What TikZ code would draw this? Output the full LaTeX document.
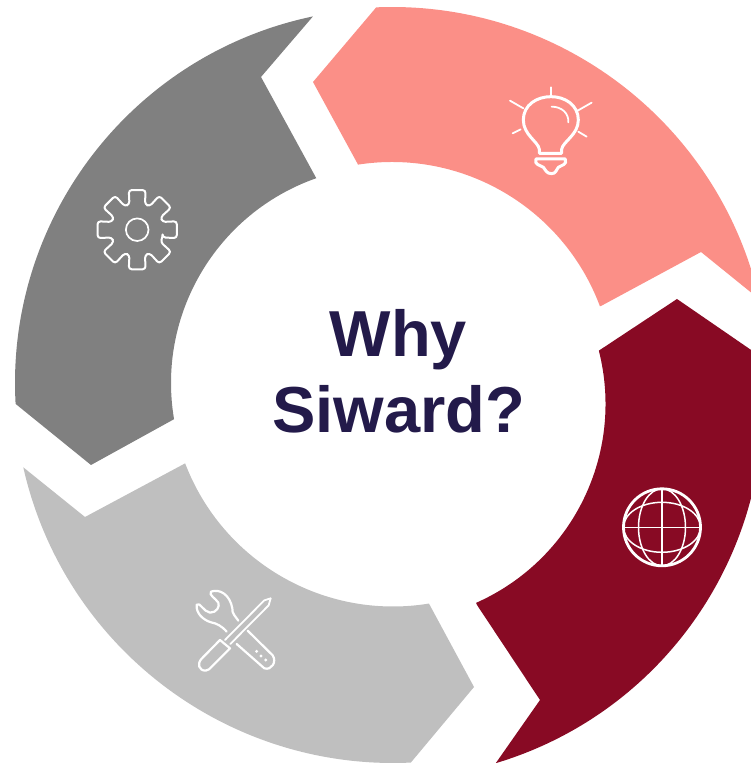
\documentclass[tikz,border=0pt]{standalone}
\usepackage{fontspec}
\setmainfont{Liberation Sans}
\definecolor{pinkseg}{HTML}{FB8F87}
\definecolor{redseg}{HTML}{880A24}
\definecolor{grayseg}{HTML}{808080}
\definecolor{lightseg}{HTML}{BFBFBF}
\definecolor{titleink}{HTML}{231A4A}
\tikzset{
  icon/.style={draw=white,line cap=round,line join=round,fill=none},
  zoomed/.style={shift={(#1)},x=0.3333pt,y=-0.3333pt}
}
\begin{document}
\begin{tikzpicture}[x=1pt,y=1pt]
\useasboundingbox (0,0) rectangle (751,763);
\clip (0,0) rectangle (751,763);
% pink segment
\fill[pinkseg] ([shift={(392,379)}]92.4:377pt) arc[start angle=92.4,end angle=13,radius=377pt]
  -- (701,511) -- (601,457) -- ([shift={(392,379)}]20.5:222pt) arc[start angle=20.5,end angle=98.8,radius=222pt]
  -- (313,681) -- cycle;
% red segment
\fill[redseg] (677,464) -- ([shift={(388,359)}]7.35:375pt) arc[start angle=7.35,end angle=-73.3,radius=375pt]
  -- (540,63) -- (477,158) -- ([shift={(388,359)}]-66.1:217.5pt) arc[start angle=-66.1,end angle=14.2,radius=217.5pt] -- cycle;
% light grey segment
\fill[lightseg] ([shift={(393,379)}]-87.3:379pt) arc[start angle=-87.3,end angle=-167.3,radius=379pt]
  -- (85,246) -- ([shift={(393,379)}]-159.1:222.5pt) arc[start angle=-159.1,end angle=-80.7,radius=222.5pt]
  -- (474,76) -- cycle;
% dark grey segment
\fill[grayseg] ([shift={(389.5,380)}]183.2:374.5pt) arc[start angle=183.2,end angle=101.8,radius=374.5pt]
  -- (261,686) -- ([shift={(388,380)}]109.3:217pt) arc[start angle=109.3,end angle=189.6,radius=217pt]
  -- (91,298) -- cycle;
% title
\node[text=titleink,font=\fontsize{65}{76}\selectfont\bfseries,align=center,inner sep=0pt] (title) at (398.5,392) {Why\\Siward?};
% bulb
\begin{scope}[zoomed={490pt,693pt}]
\draw[icon,line width=3pt] (148,250) -- (148,238) .. controls (145,215) and (100,195) .. (100,150)
  .. controls (100,105) and (140,80) .. (183,80) .. controls (225,80) and (265,105) .. (265,150)
  .. controls (265,195) and (218,215) .. (215,238) -- (215,250) -- cycle;
\draw[icon,line width=3pt] (138,267) -- (226,267) .. controls (232,285) and (215,285) .. (205,292)
  .. controls (198,300) and (198,311) .. (185,311) .. controls (168,311) and (168,300) .. (160,292)
  .. controls (150,285) and (132,285) .. (138,267) -- cycle;
\draw[icon,line width=1.8pt] (185,110) .. controls (215,110) and (237,130) .. (235,157);
\draw[icon,line width=1.8pt] (183,52) -- (183,75);
\draw[icon,line width=1.8pt] (60,92) -- (100,115);
\draw[icon,line width=1.8pt] (305,98) -- (263,122);
\draw[icon,line width=1.8pt] (68,190) -- (92,178);
\draw[icon,line width=1.8pt] (265,185) -- (290,200);
\end{scope}
% gear
\begin{scope}[shift={(137.2pt,533.3pt)}]
\draw[icon,line width=2pt,rounded corners=3pt] (-17:26.5)
  \foreach \a in {0,45,...,315} { -- (\a-17:26.5) -- (\a-12:40.5) -- (\a+12:40.5) -- (\a+17:26.5) } -- cycle;
\draw[icon,line width=1.7pt] (0,0) circle[radius=11.3pt];
\end{scope}
% tools
\begin{scope}[zoomed={175pt,183pt}]
\draw[icon,line width=1.8pt] (287,55) -- (268,61) -- (150,180);
\draw[icon,line width=1.8pt] (287,55) -- (281,76) -- (166,192);
\draw[icon,line width=2.2pt] (135,180) -- (80,236) .. controls (65,252) and (72,272) .. (92,272)
  .. controls (100,272) and (105,265) .. (110,260) -- (165,205) -- (135,180) -- cycle;
\draw[icon,line width=2.2pt] (218,152) -- (293,226) .. controls (306,245) and (290,272) .. (268,265)
  -- (185,192);
\draw[icon,line width=2.2pt] (155,155) .. controls (140,138) and (125,130) .. (108,127)
  .. controls (85,120) and (62,100) .. (65,74) .. controls (75,65) and (85,95) .. (105,98)
  .. controls (125,98) and (135,80) .. (130,68) .. controls (122,55) and (100,45) .. (108,35)
  .. controls (135,25) and (165,45) .. (172,85) .. controls (170,100) and (182,110) .. (190,122);
\fill[white] (245,214) circle[radius=1.6pt] (258,228) circle[radius=1.6pt] (272,240) circle[radius=1.6pt];
\end{scope}
% globe
\begin{scope}[shift={(662pt,235.7pt)}]
\draw[icon,line width=2.8pt] (0,0) circle[radius=38.5pt];
\draw[icon,line width=1.5pt] (0,0) ellipse[x radius=23.5pt,y radius=38.5pt];
\draw[icon,line width=1.5pt] (0,0) ellipse[x radius=38.5pt,y radius=25pt];
\draw[icon,line width=1.5pt] (-38.5,0) -- (38.5,0);
\draw[icon,line width=1.5pt] (0,-38.5) -- (0,38.5);
\end{scope}
\end{tikzpicture}
\end{document}
